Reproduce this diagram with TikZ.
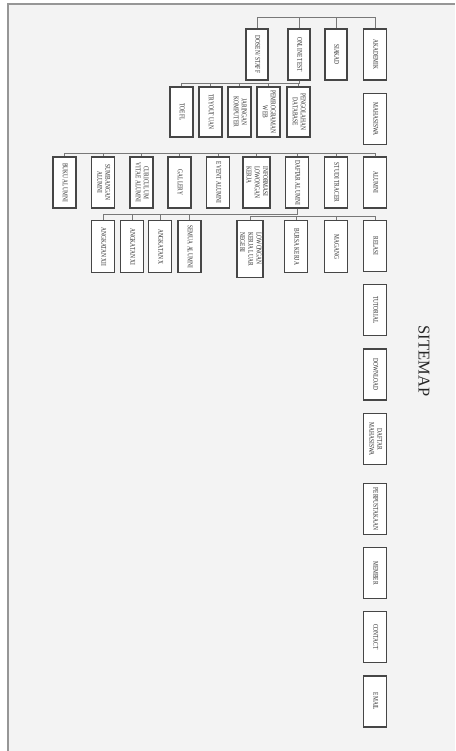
\documentclass[tikz,border=0pt]{standalone}
\usepackage{fontspec}
\setmainfont{Liberation Serif}
\newfontfamily\condfont[FakeStretch=0.75]{Liberation Serif}
\definecolor{bgc}{RGB}{243,243,243}
\definecolor{boxc}{RGB}{70,70,70}
\definecolor{txtc}{RGB}{45,45,45}
\definecolor{linec}{RGB}{120,120,120}
\definecolor{framec}{RGB}{150,150,150}
\newcommand\rtxt[2][c]{\rotatebox{-90}{\renewcommand\arraystretch{1}\begin{tabular}{@{}#1@{}}#2\end{tabular}}}
\begin{document}
\begin{tikzpicture}[x=1pt,y=-1pt,
  bx/.style={draw=boxc, fill=white, line width=1.4pt, minimum width=23pt, minimum height=51pt, inner sep=0pt, font=\condfont\fontsize{7.3}{8.2}\selectfont, text=txtc},
  conn/.style={draw=linec, line width=0.8pt}]
\useasboundingbox (0,0) rectangle (455,751);
\fill[bgc] (8,4) rectangle (455,751);
\draw[framec, line width=1.5pt] (8,751) -- (8,4) -- (455,4);
% title
\node[rotate=-90, font=\fontsize{16.5}{18}\selectfont, text=black!85] (title) at (424,361) {SITEMAP};
% main column
\node[bx] (akademik) at (375,54.5) {\rtxt{AKADEMIK}};
\node[bx] (mahasiswa) at (375,119) {\rtxt{MAHASISWA}};
\node[bx] (alumni) at (375,182.5) {\rtxt{ALUMNI}};
\node[bx] (relasi) at (375,246) {\rtxt{RELASI}};
\node[bx] (tutorial) at (375,310) {\rtxt{TUTORIAL}};
\node[bx] (download) at (375,374.5) {\rtxt{DOWNLOAD}};
\node[bx] (daftarmhs) at (375,439) {\rtxt{DAFTAR\\MAHASISWA}};
\node[bx] (perpus) at (375,509) {\rtxt{PERPUSTAKAAN}};
\node[bx] (member) at (375,573) {\rtxt{MEMBER}};
\node[bx] (contact) at (375,637) {\rtxt{CONTACT}};
\node[bx] (email) at (375,701.5) {\rtxt{EMAIL}};
% top row
\node[bx, minimum width=22pt] (dosen) at (257,54.5) {\rtxt{DOSEN/ STAFF}};
\node[bx, minimum width=22pt] (online) at (299,54.5) {\rtxt{ONLINE TEST}};
\node[bx, minimum width=22pt] (siakad) at (336,54.5) {\rtxt{SIAKAD}};
% second row
\node[bx, minimum height=50pt] (toefl) at (181.5,112) {\rtxt{TOEFL}};
\node[bx, minimum height=50pt] (tryout) at (210.5,112) {\rtxt{TRYOUT UAN}};
\node[bx, minimum height=50pt] (jaringan) at (239.5,112) {\rtxt{JARINGAN\\KOMPUTER}};
\node[bx, minimum height=50pt] (pemrograman) at (268.5,112) {\rtxt{PEMROGRAMAN\\WEB}};
\node[bx, minimum height=50pt] (pengolahan) at (298.5,112) {\rtxt{PENGOLAHAN\\DATABASE}};
% third row
\node[bx] (buku) at (64.5,182.5) {\rtxt{BUKU ALUMNI}};
\node[bx] (sumbangan) at (103,182.5) {\rtxt{SUMBANGAN\\ALUMNI}};
\node[bx] (curiculum) at (141.5,182.5) {\rtxt{CURICULUM\\VITAE ALUMNI}};
\node[bx] (gallery) at (179.5,182.5) {\rtxt{GALLERY}};
\node[bx] (event) at (218,182.5) {\rtxt{EVENT ALUMNI}};
\node[bx, minimum width=27pt] (informasi) at (256.5,182.5) {\rtxt[l]{INFORMASI\\LOWONGAN\\KERJA}};
\node[bx] (daftaralumni) at (297,182.5) {\rtxt{DAFTAR ALUMNI}};
\node[bx] (studi) at (336,182.5) {\rtxt{STUDI TRACER}};
% fourth row
\node[bx, minimum height=52pt, anchor=north] (angxii) at (103,220) {\rtxt{ANGKATAN XII}};
\node[bx, minimum height=52pt, anchor=north] (angxi) at (132,220) {\rtxt{ANGKATAN XI}};
\node[bx, minimum height=52pt, anchor=north] (angx) at (160,220) {\rtxt{ANGKATAN X}};
\node[bx, minimum height=52pt, anchor=north] (semua) at (189.5,220) {\rtxt{SEMUA ALUMNI}};
\node[bx, minimum width=26pt, minimum height=57pt, anchor=north] (lowongan) at (250,220) {\rtxt[l]{LOWONGAN\\KERJA LUAR\\NEGERI}};
\node[bx, minimum height=52pt, anchor=north] (bursa) at (296,220) {\rtxt{BURSA KERJA}};
\node[bx, minimum height=52pt, anchor=north] (magang) at (336,220) {\rtxt{MAGANG}};
% connectors: top row
\foreach \n in {dosen,online,siakad}
  \draw[conn] (akademik.north) -- ++(0,-11) -| (\n.north);
% connectors: second row
\foreach \n in {toefl,tryout,jaringan,pemrograman,pengolahan}
  \draw[conn] (online.south) -- ++(0,3) -| (\n.north);
% connectors: third row
\foreach \n in {buku,sumbangan,curiculum,gallery,event,informasi,daftaralumni,studi}
  \draw[conn] (alumni.north) -- ++(0,-3) -| (\n.north);
% connectors: daftar alumni children
\foreach \n in {angxii,angxi,angx,semua}
  \draw[conn] (daftaralumni.south) -- ++(0,6) -| (\n.north);
% connectors: relasi row
\foreach \n in {lowongan,bursa,magang}
  \draw[conn] (relasi.north) -- ++(0,-3) -| (\n.north);
\end{tikzpicture}
\end{document}
